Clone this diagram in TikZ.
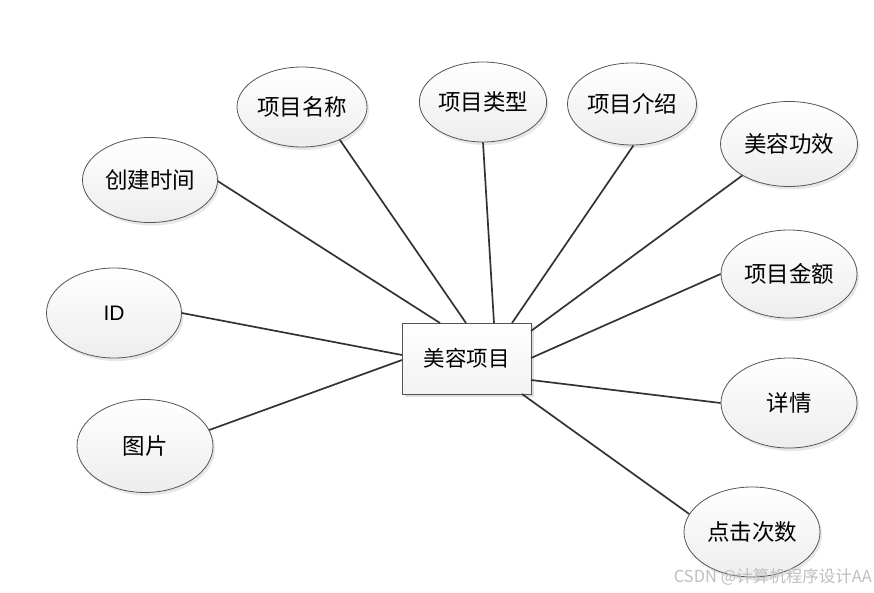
\documentclass[tikz,border=0pt]{standalone}
\usepackage{fontspec}
\setmainfont{Liberation Sans}
\newfontfamily\cjk{Noto Sans CJK SC}
\usetikzlibrary{shapes.geometric,shadows}
\definecolor{linec}{HTML}{333333}
\definecolor{edgec}{HTML}{555555}
\tikzset{
  attr/.style={ellipse, draw=edgec, line width=0.8pt, inner sep=0pt,
    top color=white, bottom color=gray!14,
    drop shadow={shadow xshift=2pt, shadow yshift=-3pt, opacity=0.18},
    font=\cjk\fontsize{22.5}{26}\selectfont, text=black},
  ent/.style={rectangle, draw=edgec, line width=0.8pt, inner sep=0pt,
    top color=white, bottom color=gray!10,
    minimum width=129pt, minimum height=71pt,
    drop shadow={shadow xshift=3pt, shadow yshift=-3pt, opacity=0.25},
    font=\cjk\fontsize{21.5}{25}\selectfont},
  link/.style={draw=linec, line width=1.7pt}
}
\begin{document}
\begin{tikzpicture}[x=1pt,y=-1pt]
\useasboundingbox (0,0) rectangle (874,592);
\fill[white] (0,0) rectangle (874,592);
\node[ent] (box) at (466.5,358.5) {美容项目};
\node[attr, minimum width=130pt, minimum height=80pt] (mc) at (302,107) {项目名称};
\node[attr, minimum width=124pt, minimum height=80pt] (lx) at (483,102) {项目类型};
\node[attr, minimum width=129pt, minimum height=82pt] (js) at (632,104) {项目介绍};
\node[attr, minimum width=137pt, minimum height=85pt] (gx) at (789,144) {美容功效};
\node[attr, minimum width=135pt, minimum height=85pt] (cj) at (150,180) {创建时间};
\node[attr, minimum width=135pt, minimum height=90pt, font=\fontsize{21}{24}\selectfont] (id) at (114,313) {ID};
\node[attr, minimum width=136pt, minimum height=88pt] (je) at (789,274) {项目金额};
\node[attr, minimum width=136pt, minimum height=90pt] (xq) at (789,403) {详情};
\node[attr, minimum width=136pt, minimum height=93pt] (tp) at (145,446) {图片};
\node[attr, minimum width=136pt, minimum height=90pt] (dj) at (752,532) {点击次数};
\coordinate (b1) at (440,323);
\coordinate (b2) at (466,323);
\coordinate (b3) at (494,323);
\coordinate (b4) at (512,323);
\coordinate (b5) at (531,331);
\coordinate (b6) at (531,358);
\coordinate (b7) at (531,380);
\coordinate (b8) at (522,394);
\coordinate (b9) at (402,355);
\coordinate (b10) at (402,360);
\draw[link] (cj.-1) -- (b1);
\draw[link] (mc.-41) -- (b2);
\draw[link] (lx.-90) -- (b3);
\draw[link] (js.-88) -- (b4);
\draw[link] (gx.-146) -- (b5);
\draw[link] (je.180) -- (b6);
\draw[link] (xq.180) -- (b7);
\draw[link] (dj.164) -- (b8);
\draw[link] (id.0) -- (b9);
\draw[link] (tp.14) -- (b10);
\node[anchor=east, text=gray!50, font=\cjk\fontsize{16.5}{19}\selectfont, inner sep=0pt] (wm) at (872,577) {CSDN @计算机程序设计AA};
\end{tikzpicture}
\end{document}
